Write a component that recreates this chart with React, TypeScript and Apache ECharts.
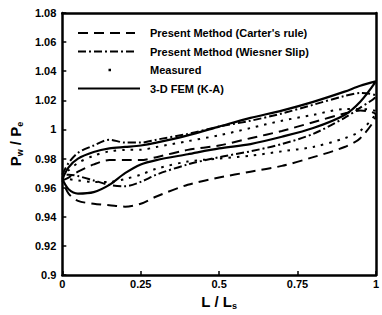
import React, { useEffect, useRef } from "react";
import * as echarts from "echarts";

const xs = [0, 0.02, 0.05, 0.1, 0.15, 0.2, 0.25, 0.3, 0.4, 0.5, 0.6, 0.7, 0.8, 0.9, 0.95, 1.0];

const carterUpper = [0.965, 0.967, 0.971, 0.976, 0.979, 0.979, 0.979, 0.981, 0.986, 0.989, 0.994, 0.999, 1.005, 1.011, 1.013, 1.010];
const carterLower = [0.965, 0.956, 0.951, 0.949, 0.948, 0.947, 0.949, 0.954, 0.962, 0.967, 0.971, 0.975, 0.981, 0.988, 0.994, 1.010];

const wiesnerUpper = [0.969, 0.977, 0.984, 0.989, 0.993, 0.991, 0.991, 0.993, 0.997, 1.002, 1.006, 1.011, 1.017, 1.023, 1.025, 1.023];
const wiesnerLower = [0.969, 0.969, 0.968, 0.965, 0.962, 0.961, 0.964, 0.969, 0.976, 0.981, 0.985, 0.990, 0.997, 1.008, 1.015, 1.023];

const measuredUpper = [0.967, 0.972, 0.977, 0.982, 0.985, 0.986, 0.986, 0.988, 0.992, 0.996, 1.001, 1.006, 1.010, 1.014, 1.014, 1.012];
const measuredLower = [0.967, 0.966, 0.965, 0.964, 0.964, 0.966, 0.969, 0.973, 0.978, 0.980, 0.982, 0.985, 0.988, 0.994, 0.999, 1.012];

const femUpper = [0.966, 0.974, 0.980, 0.9845, 0.987, 0.988, 0.989, 0.991, 0.996, 1.002, 1.008, 1.013, 1.019, 1.026, 1.030, 1.033];
const femLower = [0.966, 0.959, 0.956, 0.957, 0.962, 0.970, 0.976, 0.979, 0.983, 0.987, 0.990, 0.995, 1.001, 1.010, 1.019, 1.033];

const seriesNames = [
  "Present Method (Carter's rule)",
  "Present Method (Wiesner Slip)",
  "Measured",
  "3-D FEM (K-A)",
];

const xTicks = [0, 0.25, 0.5, 0.75, 1];

function loop(upper: number[], lower: number[]) {
  const up = xs.map((x, i) => [x, upper[i]]);
  const down = xs.map((x, i) => [x, lower[i]]).reverse();
  return up.concat(down);
}

const FONT = '"Liberation Sans", Arial, sans-serif';

export default function App() {
  const ref = useRef<HTMLDivElement>(null);
  useEffect(() => {
    if (!ref.current) return;
    const chart = echarts.init(ref.current, null, { renderer: "svg" });
    const dashes: any[] = [[10, 6], [8, 3, 2, 3], [2.5, 6], "solid"];
    const datas = [
      loop(carterUpper, carterLower),
      loop(wiesnerUpper, wiesnerLower),
      loop(measuredUpper, measuredLower),
      loop(femUpper, femLower),
    ];
    const legendY = [33, 51.5, 70, 88.5];
    const legendGraphics: any[] = [];
    seriesNames.forEach((name, i) => {
      if (i === 2) {
        legendGraphics.push({
          type: "rect",
          shape: { x: 108.5, y: legendY[i] - 1.25, width: 2.5, height: 2.5 },
          style: { fill: "#000" },
        });
      } else {
        legendGraphics.push({
          type: "line",
          shape: { x1: 78, y1: legendY[i], x2: i === 3 ? 140 : 135, y2: legendY[i] },
          style: {
            stroke: "#000",
            lineWidth: 2,
            lineDash: i === 3 ? null : dashes[i],
          },
        });
      }
      legendGraphics.push({
        type: "text",
        style: {
          text: name,
          x: 150,
          y: legendY[i],
          font: `bold 11px ${FONT}`,
          fill: "#000",
          verticalAlign: "middle",
          textAlign: "left",
        },
      });
    });

    chart.setOption({
      animation: false,
      backgroundColor: "#fff",
      grid: { left: 60.5, right: 0, top: 13, bottom: 34 },
      xAxis: [
        {
          type: "value",
          min: 0,
          max: 1,
          interval: 0.25,
          name: "{a|L / L}{s|s}",
          nameLocation: "middle",
          nameGap: 17,
          nameTextStyle: {
            rich: {
              a: { fontFamily: FONT, fontWeight: "bold", fontSize: 15, color: "#000" },
              s: { fontFamily: FONT, fontWeight: "bold", fontSize: 9, color: "#000", padding: [8, 0, 0, 0] },
            },
          },
          axisLine: { show: true, lineStyle: { color: "#000", width: 2.5 } },
          axisTick: { show: true, inside: true, length: 4, lineStyle: { color: "#000", width: 1.5 } },
          axisLabel: {
            color: "#000",
            fontFamily: FONT,
            fontWeight: "bold",
            fontSize: 11,
            margin: 3,
            formatter: (v: number) => (xTicks.includes(v) ? String(+v.toFixed(2)) : ""),
          },
          splitLine: { show: false },
        },
        {
          type: "value",
          position: "top",
          min: 0,
          max: 1,
          axisLine: { show: true, onZero: false, lineStyle: { color: "#000", width: 2.5 } },
          axisTick: { show: false },
          axisLabel: { show: false },
          splitLine: { show: false },
        },
      ],
      yAxis: [
        {
          type: "value",
          min: 0.9,
          max: 1.08,
          interval: 0.02,
          name: "{a|P}{s|w}{a| / P}{s|e}",
          nameLocation: "middle",
          nameGap: 35,
          nameRotate: 90,
          nameTextStyle: {
            rich: {
              a: { fontFamily: FONT, fontWeight: "bold", fontSize: 15, color: "#000" },
              s: { fontFamily: FONT, fontWeight: "bold", fontSize: 9, color: "#000", padding: [8, 0, 0, 0] },
            },
          },
          axisLine: { show: true, lineStyle: { color: "#000", width: 2.5 } },
          axisTick: { show: true, inside: true, length: 4, lineStyle: { color: "#000", width: 1.5 } },
          axisLabel: {
            color: "#000",
            fontFamily: FONT,
            fontWeight: "bold",
            fontSize: 11,
            margin: 6,
            formatter: (v: number) => String(+v.toFixed(2)),
          },
          splitLine: { show: false },
        },
        {
          type: "value",
          position: "right",
          min: 0.9,
          max: 1.08,
          axisLine: { show: true, onZero: false, lineStyle: { color: "#000", width: 2.5 } },
          axisTick: { show: false },
          axisLabel: { show: false },
          splitLine: { show: false },
        },
      ],
      series: datas.map((d, i) => ({
        name: seriesNames[i],
        type: "line",
        data: d,
        xAxisIndex: 0,
        yAxisIndex: 0,
        showSymbol: false,
        symbol: "none",
        smooth: 0.3,
        lineStyle: {
          color: "#000",
          width: i === 3 ? 2.2 : 2,
          type: dashes[i],
        },
      })),
      graphic: legendGraphics,
    });
    return () => chart.dispose();
  }, []);
  return (
    <div
      ref={ref}
      style={{ position: "fixed", left: 0, top: 0, width: 382, height: 315 }}
    />
  );
}
